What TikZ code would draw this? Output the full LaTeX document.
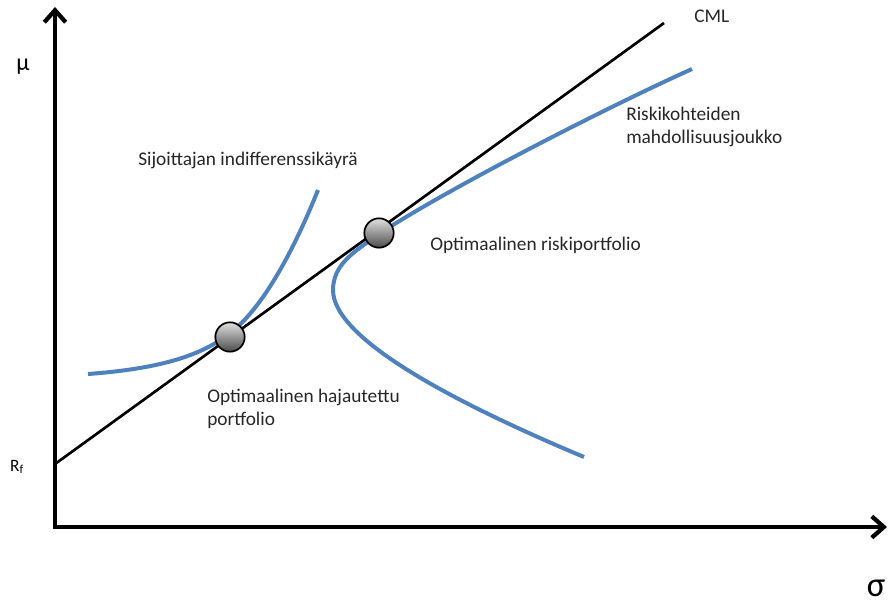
\documentclass[tikz,border=0pt]{standalone}
\usepackage{fontspec}
\setmainfont{Carlito}
\usetikzlibrary{arrows.meta}
\definecolor{officeblue}{RGB}{79,129,189}
\tikzstyle{axis} = [line width=3.2pt,-{Straight Barb[length=9pt,width=16pt]}]
\tikzstyle{cml} = [line width=2pt,black]
\tikzstyle{curve} = [line width=3pt,officeblue]
\tikzstyle{dot} = [circle,draw=black,line width=1.3pt,minimum size=22pt,inner sep=0pt,top color=gray!25,bottom color=black!70]
\tikzstyle{label} = [font=\fontsize{14.5}{17}\selectfont,text=black!85,inner sep=0pt]

\begin{document}
\begin{tikzpicture}[x=0.75pt,y=-0.75pt]
	\useasboundingbox (0,0) rectangle (888,608);
	% axes
	\coordinate (origin) at (55,527);
	\coordinate (mutop) at (55,7);
	\coordinate (sigmaend) at (887,527);
	\draw [axis] (origin) -- (mutop);
	\draw [axis] (53,527) -- (sigmaend);
	\node (mu) at (23,67) [font=\fontsize{18}{20}\selectfont] {μ};
	\node (sigma) at (876,588) [font=\fontsize{26}{30}\selectfont,inner sep=0pt] {σ};
	\node (rf) at (17,467) [font=\fontsize{13}{15}\selectfont,inner sep=0pt] {R\textsubscript{f}};
	% capital market line
	\coordinate (rfpoint) at (55,464);
	\coordinate (cmlend) at (664,23);
	\draw [cml] (rfpoint) -- (cmlend);
	\node (cml) at (694,16) [label,anchor=west] {CML};
	% indifference curve
	\draw [curve] (88,374) .. controls (170,368) and (205,352) .. (229,334)
		.. controls (264,308) and (296,245) .. (318,190);
	% efficient frontier
	\draw [curve] (584,457) .. controls (460,405) and (333,340) .. (333,290)
		.. controls (333,265) and (354,252) .. (372,239)
		.. controls (420,204) and (590,115) .. (692,69);
	% portfolios
	\node (hajautettu) at (230,337) [dot] {};
	\node (riski) at (379,233) [dot] {};
	% texts
	\node (indiff) at (138,160) [label,anchor=west] {Sijoittajan indifferenssikäyrä};
	\node (joukko) at (626,127) [label,anchor=west,align=left] {Riskikohteiden\\mahdollisuusjoukko};
	\node (optriski) at (430,245) [label,anchor=west] {Optimaalinen riskiportfolio};
	\node (opthaj) at (207,409) [label,anchor=west,align=left] {Optimaalinen hajautettu\\portfolio};
\end{tikzpicture}
\end{document}
